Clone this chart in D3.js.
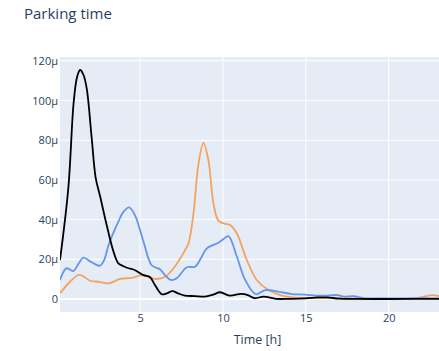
<!DOCTYPE html>
<html>
<head>
<meta charset="utf-8">
<script src="https://cdn.jsdelivr.net/npm/d3@7"></script>
<style>
  html, body { margin: 0; padding: 0; background: #fff; overflow: hidden; }
  text { font-family: "Open Sans", "DejaVu Sans", sans-serif; }
</style>
</head>
<body>
<svg id="chart" width="439" height="351"></svg>
<script>
// Parking-time densities (values in micro-units, hours on x)
const blackHours  = [0.167, 0.67, 0.99, 1.2, 1.38, 1.58, 1.78, 2.08, 2.32, 2.58, 2.99, 3.39, 3.69, 4.0, 4.3, 4.7, 5.2, 5.6, 5.9, 6.31, 6.6, 6.95, 7.3, 7.7, 8.3, 8.9, 9.4, 9.83, 10.4, 11.1, 11.5, 11.9, 12.45, 13.2, 14.0, 15.0, 15.7, 16.3, 17.0, 18.0, 20.0, 22.0, 24.0];
const blackValues = [19.6, 56, 99, 112, 115.4, 113, 106, 81, 61, 52, 37, 24, 18, 16.5, 15.5, 14.5, 12, 11, 7, 2.4, 2.8, 4, 2.8, 1.7, 1.5, 1.2, 2.2, 3.4, 1.7, 2.6, 2, 0.4, 1.2, 0.1, 0.1, 0.3, 0.8, 0.8, 0.2, 0.1, 0, 0.1, 0];

const blueHours  = [0.167, 0.4, 0.57, 0.97, 1.3, 1.58, 2.08, 2.58, 2.85, 3.09, 3.69, 4.0, 4.34, 4.7, 5.2, 5.7, 6.2, 6.5, 6.85, 7.2, 7.82, 8.32, 8.7, 9.03, 9.73, 10.0, 10.33, 10.84, 11.34, 11.98, 12.55, 13.35, 14.16, 14.96, 15.6, 16.2, 16.9, 17.3, 17.9, 18.5, 20.0, 22.0, 23.0, 24.0];
const blueValues = [9.6, 14, 15.5, 14.1, 18, 20.8, 18.5, 16.8, 20, 27, 39, 44, 46.2, 42, 29, 17, 15, 12, 9.6, 10.4, 16, 16.3, 21, 25.5, 28.4, 30, 31.7, 21.3, 9.6, 2.4, 4.5, 3.7, 2.5, 2.2, 1.7, 1.7, 2, 1.2, 1.4, 0.5, 0.3, 0.4, 0.3, 0];

const orangeHours  = [0.167, 0.77, 1.27, 1.5, 1.98, 2.48, 3.09, 3.79, 4.5, 5.2, 5.9, 6.51, 7.11, 7.72, 7.92, 8.22, 8.52, 8.82, 9.12, 9.43, 9.73, 10.1, 10.43, 10.84, 11.44, 12.04, 12.75, 13.56, 14.36, 15.5, 17.0, 18.5, 21.0, 21.7, 22.6, 23.06, 24.0];
const orangeValues = [2.9, 8.7, 12.1, 11.8, 9.2, 8.7, 7.9, 10.1, 10.7, 12, 10.1, 11.2, 16.5, 24.7, 28, 43, 68, 78.7, 70, 48, 39.4, 38, 37.3, 33, 19.6, 9.6, 4.5, 1.7, 0.7, 0.5, 0.4, 0.1, 0.1, 0.5, 2, 1.5, 0.5];

const xTicks = [5, 10, 15, 20];
const yTicks = [0, 20, 40, 60, 80, 100, 120];

const seriesList = [
  { name: "orange", color: "#f4a25e", hours: orangeHours, values: orangeValues },
  { name: "blue",   color: "#6495ed", hours: blueHours,   values: blueValues },
  { name: "black",  color: "#000000", hours: blackHours,  values: blackValues }
];

const svg = d3.select("#chart");
const plot = { left: 60, right: 455, top: 57, bottom: 312 };
const textColor = "#2a3f5f";

// y range padded like an autoranged axis
const allValues = [].concat(blackValues, blueValues, orangeValues);
const yMin = d3.min(allValues), yMax = d3.max(allValues);
const pad = (yMax - yMin) * 0.0567;

const x = d3.scaleLinear().domain([1 / 6, 24]).range([plot.left, plot.right]);
const y = d3.scaleLinear().domain([yMin - pad, yMax + pad]).range([plot.bottom, plot.top]);

// Background
svg.append("rect")
  .attr("x", plot.left).attr("y", plot.top)
  .attr("width", plot.right - plot.left).attr("height", plot.bottom - plot.top)
  .attr("fill", "#e5ecf6");

// Grid lines
const grid = svg.append("g");
grid.selectAll("line.v").data(xTicks).join("line")
  .attr("x1", d => x(d)).attr("x2", d => x(d))
  .attr("y1", plot.top).attr("y2", plot.bottom)
  .attr("stroke", "#fff").attr("stroke-width", 1);
grid.selectAll("line.h").data(yTicks).join("line")
  .attr("x1", plot.left).attr("x2", plot.right)
  .attr("y1", d => y(d)).attr("y2", d => y(d))
  .attr("stroke", "#fff").attr("stroke-width", d => d === 0 ? 2 : 1);

// Axes (labels only)
const fmtMicro = d => d === 0 ? "0" : d + "μ";
const yAxis = d3.axisLeft(y).tickValues(yTicks).tickFormat(fmtMicro).tickSize(0).tickPadding(2);
const gy = svg.append("g").attr("transform", `translate(${plot.left},0)`).call(yAxis);
gy.select(".domain").remove();
gy.selectAll("text").attr("fill", textColor).style("font-size", "11px")
  .style("font-family", '"Open Sans", sans-serif');

const xAxis = d3.axisBottom(x).tickValues(xTicks).tickFormat(d3.format("d")).tickSize(0).tickPadding(2);
const gx = svg.append("g").attr("transform", `translate(0,${plot.bottom})`).call(xAxis);
gx.select(".domain").remove();
gx.selectAll("text").attr("fill", textColor).style("font-size", "11px")
  .style("font-family", '"Open Sans", sans-serif');

// Lines
svg.append("clipPath").attr("id", "plotClip").append("rect")
  .attr("x", plot.left).attr("y", plot.top)
  .attr("width", plot.right - plot.left).attr("height", plot.bottom - plot.top);

const line = d3.line()
  .x(d => x(d[0]))
  .y(d => y(d[1]))
  .curve(d3.curveCatmullRom.alpha(0.5));

const lines = svg.append("g").attr("clip-path", "url(#plotClip)");
seriesList.forEach(s => {
  const pts = s.hours.map((h, i) => [h, s.values[i]]);
  lines.append("path")
    .datum(pts)
    .attr("d", line)
    .attr("fill", "none")
    .attr("stroke", s.color)
    .attr("stroke-width", 1.8)
    .attr("stroke-linejoin", "round");
});

// Titles
svg.append("text")
  .attr("x", 24).attr("y", 19)
  .attr("fill", textColor)
  .style("font-size", "15px")
  .text("Parking time");

svg.append("text")
  .attr("x", (plot.left + plot.right) / 2).attr("y", 344)
  .attr("text-anchor", "middle")
  .attr("fill", textColor)
  .style("font-size", "12.5px")
  .text("Time [h]");
</script>
</body>
</html>
